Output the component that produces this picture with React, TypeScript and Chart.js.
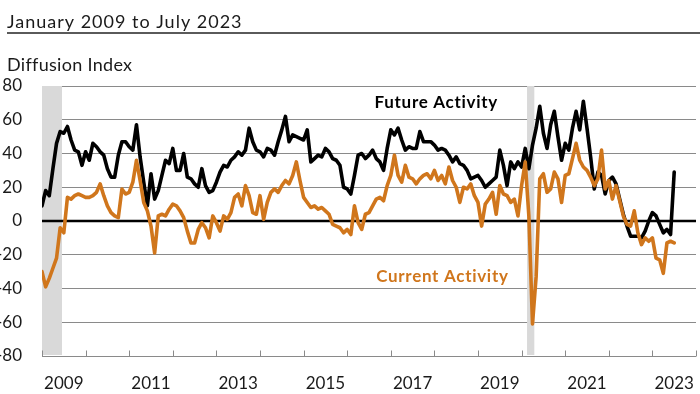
import React, { useEffect, useRef } from "react";
import { Chart, registerables } from "chart.js";

Chart.register(...registerables);

// ---------------- data ----------------
const START_YEAR = 2009; // month index 0 = January 2009

// Future Activity diffusion index, Jan 2009 .. Jul 2023 (one row per year)
const futureActivity: number[] = [
  9, 18, 15, 31, 46, 53, 52, 56, 48, 42, 41, 33,
  41, 36, 46, 44, 41, 39, 31, 26, 26, 39, 47, 47,
  44, 42, 57, 38, 23, 9, 28, 13, 18, 27, 36, 34,
  43, 30, 30, 40, 26, 25, 22, 20, 31, 21, 17, 18,
  23, 29, 33, 32, 36, 38, 41, 39, 42, 55, 47, 42,
  41, 38, 43, 42, 39, 47, 54, 62, 47, 51, 50, 49,
  48, 54, 35, 37, 39, 38, 43, 41, 37, 36, 33, 20,
  19, 16, 27, 39, 40, 37, 39, 42, 37, 35, 30, 43,
  54, 51, 55, 48, 42, 44, 43, 43, 53, 47, 47, 47,
  45, 42, 43, 42, 39, 35, 38, 34, 33, 30, 25, 26,
  27, 24, 20, 22, 24, 26, 42, 33, 21, 35, 31, 35,
  32, 43, 31, 45, 55, 68, 52, 43, 57, 65, 50, 36,
  46, 42, 55, 65, 54, 71, 55, 38, 19, 29, 27, 16,
  24, 26, 22, 13, 4, -3, -9, -9, -9, -10, -6, 0,
  5, 3, -2, -7, -5, -8, 29,
];

// Current Activity diffusion index, Jan 2009 .. Jul 2023
const currentActivity: number[] = [
  -30, -39, -34, -28, -22, -4, -7, 14, 13, 15, 16, 15,
  14, 14, 15, 17, 22, 15, 9, 5, 3, 2, 19, 16,
  17, 23, 36, 24, 11, 6, -3, -19, 3, 4, 3, 7,
  10, 9, 6, 2, -6, -13, -13, -5, -1, -4, -10, 3,
  -1, -6, 3, 1, 5, 14, 16, 9, 21, 15, 5, 4,
  15, 1, 11, 17, 19, 17, 21, 24, 22, 27, 35, 24,
  14, 11, 8, 9, 7, 8, 6, 4, -2, -3, -4, -7,
  -5, -8, 9, -1, -5, 4, 5, 9, 13, 14, 12, 21,
  27, 39, 27, 23, 33, 26, 25, 22, 25, 27, 28, 25,
  30, 24, 27, 22, 32, 24, 20, 11, 20, 19, 22, 15,
  11, -3, 10, 13, 17, 4, 21, 16, 15, 11, 13, 3,
  21, 35, 3, -61, -33, 25, 28, 17, 19, 29, 25, 11,
  27, 28, 37, 46, 36, 32, 30, 26, 21, 25, 42, 19,
  24, 13, 21, 12, 3, -2, -3, 6, -7, -14, -10, -12,
  -10, -22, -23, -31, -13, -12, -13,
];

const xLabelYears: number[] = [2009, 2011, 2013, 2015, 2017, 2019, 2021, 2023];
const xTickYears: number[] = [2009, 2010, 2011, 2012, 2013, 2014, 2015, 2016, 2017, 2018, 2019, 2020, 2021, 2022, 2023, 2024];
const yTickValues: number[] = [-80, -60, -40, -20, 0, 20, 40, 60, 80];
// recessions: [first month index, last month index]
const recessions: [number, number][] = [
  [0, 5],
  [134, 135],
];

const TITLE = "January 2009 to July 2023";
const Y_TITLE = "Diffusion Index";
const FUTURE_LABEL = "Future Activity";
const CURRENT_LABEL = "Current Activity";

// ---------------- styles ----------------
const BLACK = "#000000";
const ORANGE = "#D0761C";
const GRID = "#8a8a8a";
const SHADE = "#d9d9d9";
const TEXT = "#1a1a1a";
const FONT = "Lato, 'Open Sans', sans-serif";

const seriesLabels = [
  { text: FUTURE_LABEL, month: 108.5, value: 70, color: BLACK },
  { text: CURRENT_LABEL, month: 110.2, value: -32.8, color: ORANGE },
];

const decorPlugin = {
  id: "decor",
  beforeDatasetsDraw(chart: any) {
    const { ctx, chartArea, scales } = chart;
    const xs = scales.x;
    const ys = scales.y;
    ctx.save();
    // recession shading
    ctx.fillStyle = SHADE;
    recessions.forEach(([a, b]) => {
      const x0 = Math.max(xs.getPixelForValue(a - 0.5), chartArea.left);
      const x1 = Math.min(xs.getPixelForValue(b + 0.5), chartArea.right);
      ctx.fillRect(x0, chartArea.top, x1 - x0, chartArea.bottom - chartArea.top - 1);
    });
    // axis line
    const yb = Math.round(ys.getPixelForValue(-80)) + 0.5;
    ctx.strokeStyle = GRID;
    ctx.lineWidth = 1;
    ctx.beginPath();
    ctx.moveTo(chartArea.left, yb);
    ctx.lineTo(chartArea.right, yb);
    ctx.stroke();
    // inward year tick marks
    xTickYears.forEach((yr) => {
      const px = Math.round(xs.getPixelForValue((yr - START_YEAR) * 12)) + 0.5;
      ctx.beginPath();
      ctx.moveTo(px, yb);
      ctx.lineTo(px, yb - 6);
      ctx.stroke();
    });
    // zero line
    const y0 = ys.getPixelForValue(0);
    ctx.strokeStyle = BLACK;
    ctx.lineWidth = 2.6;
    ctx.beginPath();
    ctx.moveTo(chartArea.left, y0);
    ctx.lineTo(chartArea.right, y0);
    ctx.stroke();
    ctx.restore();
  },
  afterDraw(chart: any) {
    const { ctx, scales } = chart;
    ctx.save();
    ctx.fillStyle = TEXT;
    ctx.textBaseline = "alphabetic";
    ctx.textAlign = "left";
    ctx.font = `18px ${FONT}`;
    (ctx as any).letterSpacing = "1px";
    ctx.fillText(TITLE, 7, 27.5);
    (ctx as any).letterSpacing = "0px";
    ctx.fillStyle = "#5a5a5a";
    ctx.fillRect(7, 32, 693, 2);
    ctx.fillStyle = TEXT;
    ctx.font = `18px ${FONT}`;
    (ctx as any).letterSpacing = "0.3px";
    ctx.fillText(Y_TITLE, 7, 70.5);
    // series labels
    ctx.font = `bold 17px ${FONT}`;
    (ctx as any).letterSpacing = "0.7px";
    ctx.textAlign = "center";
    ctx.textBaseline = "middle";
    seriesLabels.forEach((l) => {
      ctx.fillStyle = l.color;
      ctx.fillText(l.text, scales.x.getPixelForValue(l.month), scales.y.getPixelForValue(l.value));
    });
    ctx.restore();
  },
};

export default function App() {
  const canvasRef = useRef<HTMLCanvasElement | null>(null);

  useEffect(() => {
    const canvas = canvasRef.current;
    if (!canvas) return;
    const chart = new Chart(canvas, {
      type: "line",
      data: {
        datasets: [
          {
            label: CURRENT_LABEL,
            data: currentActivity.map((v, i) => ({ x: i, y: v })),
            borderColor: ORANGE,
            backgroundColor: ORANGE,
            borderWidth: 3.6,
            pointRadius: 0,
            tension: 0,
            borderJoinStyle: "round",
            borderCapStyle: "round",
          },
          {
            label: FUTURE_LABEL,
            data: futureActivity.map((v, i) => ({ x: i, y: v })),
            borderColor: BLACK,
            backgroundColor: BLACK,
            borderWidth: 3.6,
            pointRadius: 0,
            tension: 0,
            borderJoinStyle: "round",
            borderCapStyle: "round",
          },
        ],
      },
      options: {
        responsive: false,
        animation: false,
        devicePixelRatio: 1,
        layout: { padding: { top: 86, right: 4, left: 0, bottom: 0 } },
        plugins: {
          legend: { display: false },
          tooltip: { enabled: false },
          title: { display: false },
        },
        scales: {
          x: {
            type: "linear",
            min: 0,
            max: 180,
            afterBuildTicks: (s: any) => {
              s.ticks = xLabelYears.map((yr) => ({ value: (yr - START_YEAR) * 12 + 6 }));
            },
            ticks: {
              autoSkip: false,
              maxRotation: 0,
              padding: 17,
              color: TEXT,
              font: { family: FONT, size: 17 },
              callback: (v: any) => String(START_YEAR + Math.floor(Number(v) / 12)),
            },
            grid: { display: false, drawTicks: false },
            border: { display: false },
            afterFit: (s: any) => {
              s.height = 38;
              s.paddingLeft = 0;
              s.paddingRight = 0;
            },
          },
          y: {
            min: -80,
            max: 80,
            afterBuildTicks: (s: any) => {
              s.ticks = yTickValues.map((v) => ({ value: v }));
            },
            ticks: {
              padding: 20,
              color: TEXT,
              font: { family: FONT, size: 17 },
              callback: (v: any) => String(v),
            },
            grid: {
              drawTicks: false,
              lineWidth: 1,
              color: (c: any) => (c.tick && (c.tick.value === 0 || c.tick.value === -80) ? "rgba(0,0,0,0)" : GRID),
            },
            border: { display: false },
            afterFit: (s: any) => {
              s.width = 42;
              s.paddingTop = 0;
              s.paddingBottom = 0;
            },
          },
        },
      },
      plugins: [decorPlugin],
    } as any);
    return () => chart.destroy();
  }, []);

  return (
    <div style={{ position: "fixed", left: 0, top: 0, width: 700, height: 394, background: "#fff" }}>
      <canvas ref={canvasRef} width={700} height={394} style={{ width: 700, height: 394, display: "block" }} />
    </div>
  );
}
